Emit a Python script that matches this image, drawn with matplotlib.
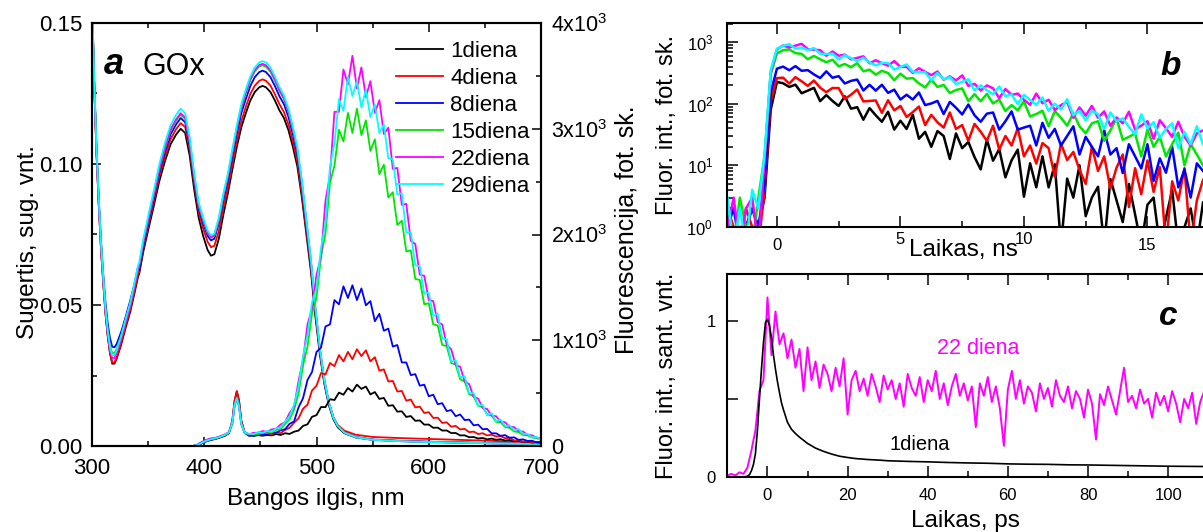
import numpy as np
import matplotlib
matplotlib.use("Agg")
import matplotlib.pyplot as plt
from matplotlib.ticker import MultipleLocator, LogLocator, NullFormatter

plt.rcParams['font.family'] = ['Liberation Sans', 'DejaVu Sans']
plt.rcParams['mathtext.fontset'] = 'custom'
plt.rcParams['mathtext.rm'] = 'Liberation Sans'
plt.rcParams['mathtext.it'] = 'Liberation Sans:italic'

#%% data
day_labels = ["1diena", "4diena", "8diena", "15diena", "22diena", "29diena"]
day_colors = ["#000000", "#ff0000", "#0000ff", "#00e600", "#ff00ff", "#00ffff"]

# panel a: absorption (left axis)
abs_wl = [300, 302, 304, 306, 308, 310, 312, 314, 316, 318,
          320, 322, 326, 330, 334, 338, 341, 342, 346, 350,
          355, 360, 365, 370, 375, 379, 383, 387, 391, 395,
          399, 403, 406, 409, 413, 417, 421, 425, 429, 433,
          437, 441, 445, 449, 452, 455, 459, 463, 467, 471,
          475, 479, 483, 487, 491, 495, 499, 503, 507, 511,
          515, 519, 525, 535, 550, 575, 600, 650, 700]
abs_d1 = [0.158, 0.128, 0.104, 0.086, 0.070, 0.058, 0.047, 0.039, 0.033, 0.0292,
          0.0292, 0.031, 0.036, 0.042, 0.0475, 0.0545, 0.060, 0.061, 0.0695, 0.0765,
          0.085, 0.094, 0.101, 0.107, 0.1105, 0.1125, 0.1110, 0.103, 0.091, 0.081,
          0.0745, 0.0695, 0.0675, 0.068, 0.0735, 0.082, 0.0895, 0.098, 0.106, 0.113,
          0.118, 0.1225, 0.1255, 0.1272, 0.1277, 0.1272, 0.1255, 0.1225, 0.119, 0.1163,
          0.112, 0.106, 0.099, 0.088, 0.075, 0.062, 0.046, 0.0325, 0.022, 0.0145,
          0.0095, 0.0066, 0.0045, 0.003, 0.0022, 0.0018, 0.0015, 0.0011, 0.0007]
abs_d4 = [0.158, 0.128, 0.104, 0.086, 0.070, 0.058, 0.0472, 0.0393, 0.0333, 0.0296,
          0.0296, 0.0314, 0.0365, 0.0426, 0.0482, 0.0553, 0.0608, 0.0618, 0.0705, 0.0777,
          0.0864, 0.0955, 0.1027, 0.1088, 0.1124, 0.1145, 0.1131, 0.1052, 0.0932, 0.0830,
          0.0772, 0.0724, 0.0705, 0.0710, 0.0762, 0.0843, 0.0915, 0.0998, 0.1079, 0.1151,
          0.1202, 0.1248, 0.1278, 0.1295, 0.1300, 0.1295, 0.1278, 0.1247, 0.1212, 0.1184,
          0.1140, 0.1079, 0.1008, 0.0896, 0.0764, 0.0632, 0.0470, 0.0333, 0.0228, 0.0153,
          0.0103, 0.0074, 0.0054, 0.0040, 0.0032, 0.0028, 0.0025, 0.0019, 0.0013]
abs_d8 = [0.158, 0.129, 0.106, 0.088, 0.073, 0.061, 0.051, 0.0435, 0.0383, 0.0352,
          0.0350, 0.0362, 0.0405, 0.0458, 0.0515, 0.0578, 0.0635, 0.0622, 0.0712, 0.0788,
          0.0876, 0.0970, 0.1043, 0.1105, 0.1141, 0.1163, 0.1148, 0.1067, 0.0945, 0.0843,
          0.0790, 0.0745, 0.0729, 0.0735, 0.0790, 0.0870, 0.0940, 0.1025, 0.1107, 0.1180,
          0.1230, 0.1276, 0.1308, 0.1326, 0.1331, 0.1326, 0.1308, 0.1276, 0.1240, 0.1212,
          0.1167, 0.1104, 0.1031, 0.0917, 0.0781, 0.0646, 0.0480, 0.0340, 0.0230, 0.0152,
          0.0100, 0.0070, 0.0048, 0.0032, 0.0023, 0.0018, 0.0015, 0.0010, 0.0006]
abs_d15 = [0.158, 0.128, 0.105, 0.087, 0.072, 0.060, 0.049, 0.041, 0.0355, 0.0330,
           0.0330, 0.0345, 0.0392, 0.0448, 0.0500, 0.0572, 0.0628, 0.0638, 0.0727, 0.0800,
           0.0888, 0.0982, 0.1055, 0.1117, 0.1153, 0.1175, 0.1160, 0.1078, 0.0955, 0.0853,
           0.0800, 0.0755, 0.0738, 0.0745, 0.0800, 0.0885, 0.0955, 0.1040, 0.1125, 0.1198,
           0.1250, 0.1296, 0.1328, 0.1346, 0.1350, 0.1345, 0.1327, 0.1295, 0.1258, 0.1230,
           0.1184, 0.1120, 0.1046, 0.0930, 0.0793, 0.0655, 0.0486, 0.0343, 0.0232, 0.0153,
           0.0100, 0.0070, 0.0047, 0.0031, 0.0022, 0.0017, 0.0014, 0.0010, 0.0006]
abs_d22 = [0.158, 0.128, 0.104, 0.086, 0.071, 0.059, 0.048, 0.040, 0.0340, 0.0312,
           0.0312, 0.0330, 0.0380, 0.0440, 0.0496, 0.0570, 0.0628, 0.0640, 0.0730, 0.0803,
           0.0892, 0.0986, 0.1060, 0.1123, 0.1159, 0.1180, 0.1165, 0.1083, 0.0958, 0.0856,
           0.0802, 0.0757, 0.0740, 0.0747, 0.0803, 0.0888, 0.0958, 0.1044, 0.1129, 0.1203,
           0.1255, 0.1301, 0.1333, 0.1351, 0.1355, 0.1350, 0.1332, 0.1300, 0.1263, 0.1234,
           0.1188, 0.1124, 0.1050, 0.0934, 0.0796, 0.0658, 0.0488, 0.0345, 0.0233, 0.0154,
           0.0101, 0.0070, 0.0047, 0.0031, 0.0022, 0.0017, 0.0014, 0.0010, 0.0006]
abs_d29 = [0.160, 0.130, 0.106, 0.088, 0.072, 0.060, 0.049, 0.041, 0.0350, 0.0322,
           0.0322, 0.0340, 0.0390, 0.0450, 0.0508, 0.0582, 0.0640, 0.0650, 0.0740, 0.0815,
           0.0905, 0.1000, 0.1075, 0.1138, 0.1175, 0.1196, 0.1180, 0.1097, 0.0970, 0.0865,
           0.0810, 0.0764, 0.0747, 0.0753, 0.0810, 0.0895, 0.0965, 0.1052, 0.1137, 0.1212,
           0.1264, 0.1310, 0.1342, 0.1360, 0.1365, 0.1360, 0.1342, 0.1310, 0.1273, 0.1243,
           0.1197, 0.1133, 0.1058, 0.0941, 0.0802, 0.0663, 0.0492, 0.0348, 0.0235, 0.0155,
           0.0102, 0.0071, 0.0047, 0.0031, 0.0022, 0.0017, 0.0014, 0.0010, 0.0006]

# panel a: fluorescence (right axis)
fl_wl = [390, 394, 398, 402, 406, 410, 414, 418, 422, 425, 427, 429, 431, 433, 436] + list(range(440, 701, 4))
fl_d1 = [0, 8, 28, 45, 58, 66, 80, 95, 120, 230, 420, 515, 430, 240, 125,
         99, 95, 103, 97, 105, 100, 113, 104, 121, 114,
         135, 146, 190, 205, 276, 292, 368, 368, 442, 435,
         505, 485, 548, 515, 580, 540, 562, 488, 510, 445,
         455, 380, 386, 325, 328, 275, 283, 238, 242, 202,
         203, 172, 174, 146, 147, 122, 123, 100, 101, 83,
         85, 71, 76, 63, 70, 59, 64, 52, 56, 45,
         48, 38, 42, 33, 37, 29]
fl_d4 = [0, 10, 30, 48, 60, 70, 82, 98, 125, 240, 430, 520, 420, 235, 128,
         110, 103, 115, 107, 120, 112, 128, 121, 152, 172,
         220, 262, 352, 392, 525, 570, 690, 675, 785, 755,
         860, 800, 890, 820, 915, 850, 905, 800, 840, 712,
         725, 610, 615, 515, 520, 428, 440, 365, 372, 312,
         320, 265, 268, 218, 224, 182, 190, 157, 162, 131,
         136, 113, 121, 100, 107, 90, 93, 74, 76, 53,
         52, 41, 46, 34, 38, 29]
fl_d8 = [0, 9, 27, 46, 60, 72, 85, 100, 126, 215, 380, 455, 380, 210, 125,
         96, 110, 104, 116, 111, 126, 125, 149, 158, 210,
         232, 366, 452, 625, 700, 890, 930, 1130, 1150, 1380,
         1340, 1510, 1400, 1520, 1380, 1490, 1330, 1370, 1180, 1250,
         1090, 1110, 940, 955, 790, 790, 670, 680, 570, 580,
         470, 485, 395, 405, 330, 340, 282, 298, 245, 250,
         195, 202, 158, 162, 120, 120, 96, 103, 78, 82,
         58, 63, 48, 50, 34, 36]
fl_d15 = [0, 12, 38, 55, 70, 72, 88, 102, 128, 215, 385, 450, 375, 205, 122,
          108, 116, 113, 127, 124, 128, 153, 160, 208, 252,
          342, 495, 760, 940, 1250, 1400, 1790, 2010, 2490, 2650,
          2990, 2880, 3150, 2960, 3190, 2940, 3080, 2790, 2900, 2570,
          2660, 2350, 2400, 2090, 2130, 1840, 1850, 1580, 1570, 1340,
          1350, 1150, 1140, 955, 945, 785, 770, 630, 610, 490,
          470, 380, 370, 300, 288, 228, 224, 180, 172, 138,
          131, 104, 101, 80, 75, 57]
fl_d22 = [0, 14, 40, 58, 72, 78, 92, 108, 132, 225, 390, 455, 380, 210, 130,
          111, 125, 125, 141, 134, 157, 163, 203, 226, 312,
          370, 615, 815, 1150, 1300, 1620, 1790, 2320, 2560, 3160,
          3160, 3560, 3420, 3690, 3380, 3580, 3300, 3450, 3150, 3270,
          2950, 3010, 2620, 2630, 2280, 2290, 1940, 1910, 1620, 1610,
          1380, 1370, 1170, 1150, 955, 915, 765, 750, 610, 585,
          465, 448, 360, 350, 285, 282, 228, 225, 182, 178,
          142, 136, 106, 101, 78, 74]
fl_d29 = [0, 10, 32, 50, 64, 74, 86, 104, 128, 220, 385, 455, 378, 212, 126,
          116, 112, 131, 124, 142, 136, 165, 176, 230, 280,
          390, 560, 850, 1050, 1360, 1490, 1870, 2110, 2640, 2860,
          3280, 3170, 3490, 3310, 3450, 3200, 3370, 3110, 3230, 2960,
          3040, 2720, 2710, 2380, 2390, 2020, 2020, 1710, 1700, 1440,
          1450, 1230, 1250, 1020, 1010, 800, 810, 650, 660, 500,
          500, 380, 390, 290, 310, 235, 250, 190, 195, 150,
          160, 115, 115, 82, 86, 58]

# panel b: decays, counts every 0.25 ns from -2 ns (0.5 = empty channel)
b_t = np.arange(-2.0, 17.26, 0.25)
b_d1 = [1, 0.5, 1, 1, 2, 1, 3, 80, 225, 215,
        187, 204, 148, 163, 181, 110, 138, 111, 92, 132,
        83, 88, 55, 85, 65, 51, 74, 38, 53, 39,
        66, 27, 35, 20, 36, 30, 12.7, 33, 19, 24,
        13.6, 8.6, 26, 11.9, 18.4, 6.4, 12.1, 18, 3.1, 10.8,
        4.4, 14, 4.4, 10.4, 0.5, 6.1, 3, 10, 1.5, 3,
        4.5, 0.5, 6, 2.7, 1.2, 5, 1.6, 0.5, 2.3, 3,
        0.5, 1.4, 4, 0.5, 1, 2, 0.5, 2.5]
b_d4 = [2, 1, 0.5, 2, 1, 0.5, 4, 110, 260, 265,
        212, 270, 231, 195, 238, 182, 154, 180, 179, 119,
        140, 170, 109, 111, 113, 71, 114, 78, 92, 61,
        73, 90, 45, 66, 50, 41, 72, 39, 45, 25,
        47, 35, 25, 44, 18, 30, 21, 40, 14, 21,
        10.7, 23, 19, 6.5, 22.5, 12.2, 16.5, 8.5, 5, 20,
        8.1, 14, 4.2, 9.2, 15, 2.1, 9, 3.4, 12, 3.7,
        9.4, 0.5, 5.5, 2.7, 9, 0.5, 2.7, 5.8]
b_d8 = [1, 2, 0.5, 1, 2, 1, 5, 150, 370, 400,
        350, 407, 342, 351, 299, 261, 335, 264, 280, 213,
        235, 246, 164, 203, 163, 203, 150, 169, 117, 140,
        117, 152, 95, 101, 111, 68, 107, 86, 67, 97,
        65, 51, 69, 72, 38, 52, 75, 38, 41, 44,
        21, 49, 28, 39, 21, 30, 43, 15, 29, 20,
        14, 37, 15, 19, 7.5, 22, 14, 8.9, 22, 5.6,
        13, 7.6, 20, 4.4, 8.6, 3, 10.8, 8.1]
b_d15 = [2, 0.5, 3, 1, 0.5, 3, 14, 300, 650, 740,
         760, 662, 644, 527, 596, 526, 471, 518, 404, 441,
         391, 455, 336, 357, 296, 342, 315, 240, 307, 255,
         261, 214, 183, 246, 187, 202, 149, 167, 177, 110,
         143, 110, 144, 101, 117, 76, 95, 78, 109, 62,
         68, 77, 43, 76, 59, 44, 70, 43, 33, 48,
         52, 25, 37, 58, 26, 29, 33, 14, 38, 20,
         29, 14, 22, 34, 10, 22, 15, 10]
b_d22 = [1, 3, 0.5, 2, 3, 0.5, 12, 320, 760, 880,
         816, 875, 936, 768, 754, 739, 602, 704, 600, 626,
         525, 554, 587, 452, 507, 455, 414, 492, 395, 397,
         316, 376, 329, 290, 333, 245, 278, 238, 288, 195,
         210, 164, 198, 178, 123, 173, 139, 146, 116, 96,
         146, 102, 116, 79, 95, 107, 59, 87, 64, 92,
         59, 75, 44, 60, 48, 74, 38, 44, 52, 27,
         54, 40, 29, 51, 29, 21, 33, 37]
b_d29 = [3, 0.5, 2, 0.5, 4, 2, 15, 350, 780, 870,
         925, 780, 815, 740, 800, 643, 641, 648, 525, 611,
         549, 490, 556, 467, 419, 461, 459, 357, 394, 434,
         328, 325, 323, 242, 315, 249, 271, 208, 226, 249,
         164, 199, 166, 142, 190, 133, 141, 99, 139, 115,
         96, 126, 77, 100, 81, 118, 65, 77, 54, 77,
         68, 39, 72, 52, 58, 42, 32, 67, 40, 50,
         28, 39, 48, 19, 35, 22, 43, 22]

# panel c: normalised fast kinetics
c_t1 = [-10, -6, -5, -4.5, -4, -3.5, -3, -2.5, -2, -1.5,
        -1, -0.5, 0, 0.5, 1, 1.5, 2, 2.5, 3, 3.5,
        4, 5, 6, 7, 8, 9, 10, 12, 14, 16,
        18, 20, 22, 25, 28, 30, 35, 40, 45, 50,
        55, 60, 65, 70, 75, 80, 85, 90, 95, 100, 105, 110]
c_d1 = [0, 0, 0.005, 0.015, 0.04, 0.08, 0.15, 0.30, 0.50, 0.69,
        0.86, 0.99, 1.01, 0.97, 0.89, 0.78, 0.69, 0.61, 0.54, 0.475,
        0.43, 0.35, 0.305, 0.278, 0.255, 0.235, 0.215, 0.185, 0.164, 0.147,
        0.133, 0.125, 0.118, 0.112, 0.108, 0.104, 0.100, 0.097, 0.093, 0.090,
        0.088, 0.084, 0.082, 0.081, 0.078, 0.077, 0.075, 0.073, 0.071, 0.069, 0.068, 0.067]
c_t22 = np.arange(-10, 111)
c_d22 = [0.01, 0.02, 0.01, 0.03, 0.02, 0.06, 0.17, 0.30, 0.55, 0.62,
         1.15, 0.78, 1.06, 0.85, 0.92, 0.76, 0.88, 0.70, 0.82, 0.55,
         0.83, 0.62, 0.74, 0.57, 0.72, 0.66, 0.55, 0.70, 0.58, 0.76,
         0.40, 0.62, 0.68, 0.55, 0.63, 0.52, 0.66, 0.58, 0.48, 0.65,
         0.56, 0.62, 0.50, 0.60, 0.45, 0.66, 0.57, 0.52, 0.64, 0.48,
         0.62, 0.55, 0.68, 0.50, 0.60, 0.46, 0.58, 0.66, 0.52, 0.60,
         0.49, 0.58, 0.32, 0.60, 0.52, 0.64, 0.48, 0.58, 0.44, 0.20,
         0.56, 0.68, 0.50, 0.62, 0.47, 0.58, 0.54, 0.42, 0.60, 0.50,
         0.57, 0.45, 0.62, 0.52, 0.48, 0.58, 0.44, 0.55, 0.50, 0.38,
         0.56, 0.47, 0.24, 0.53, 0.46, 0.58, 0.49, 0.40, 0.55, 0.70,
         0.48, 0.52, 0.44, 0.56, 0.47, 0.50, 0.38, 0.54, 0.46, 0.52,
         0.42, 0.55, 0.47, 0.35, 0.50, 0.44, 0.54, 0.34, 0.48, 0.55, 0.46]

abs_all = [abs_d1, abs_d4, abs_d8, abs_d15, abs_d22, abs_d29]
fl_all = [fl_d1, fl_d4, fl_d8, fl_d15, fl_d22, fl_d29]
b_all = [b_d1, b_d4, b_d8, b_d15, b_d22, b_d29]

#%% figure
W, H = 1203, 532
fig = plt.figure(figsize=(W / 100, H / 100), dpi=100)

def px_axes(left, top, right, bottom):
    return fig.add_axes([left / W, 1 - bottom / H, (right - left) / W, (bottom - top) / H])

def frame(ax):
    for s in ax.spines.values():
        s.set_linewidth(1.5)

# ---- panel a
ax_a = px_axes(92, 23, 541, 446)
for y, c in zip(abs_all, day_colors):
    ax_a.plot(abs_wl, y, color=c, lw=1.3)
ax_a.set_xlim(300, 700)
ax_a.set_ylim(0, 0.15)
ax_a.set_xticks([300, 400, 500, 600, 700])
ax_a.xaxis.set_minor_locator(MultipleLocator(50))
ax_a.set_yticks([0, 0.05, 0.10, 0.15])
ax_a.set_yticklabels(["0.00", "0.05", "0.10", "0.15"])
ax_a.yaxis.set_minor_locator(MultipleLocator(0.025))
ax_a.tick_params(axis='x', which='both', direction='in', top=True, labelsize=16, pad=9)
ax_a.tick_params(axis='y', which='both', direction='in', right=False, labelsize=16, pad=7)
ax_a.tick_params(which='major', length=6.5, width=1.1)
ax_a.tick_params(which='minor', length=3.5, width=1.1)
frame(ax_a)

ax_f = ax_a.twinx()
for y, c, lab in zip(fl_all, day_colors, day_labels):
    ax_f.plot(fl_wl, y, color=c, lw=1.3, label=lab)
ax_f.set_ylim(0, 4000)
ax_f.set_yticks([0, 1000, 2000, 3000, 4000])
ax_f.set_yticklabels(["0", "1x10$^3$", "2x10$^3$", "3x10$^3$", "4x10$^3$"])
ax_f.yaxis.set_minor_locator(MultipleLocator(500))
ax_f.tick_params(axis='y', which='both', direction='in', labelsize=15.5, pad=7.5)
ax_f.tick_params(which='major', length=6.5, width=1.1)
ax_f.tick_params(which='minor', length=3.5, width=1.1)
frame(ax_f)
ax_f.legend(loc='upper left', bbox_to_anchor=(396 / W, 1 - 41 / H), bbox_transform=fig.transFigure,
            frameon=False, fontsize=16, handlelength=2.1, handletextpad=0.35,
            labelspacing=0.27, borderpad=0, borderaxespad=0)

fig.text(104 / W, 1 - 74 / H, "a", fontsize=26, fontweight='bold', fontstyle='italic')
fig.text(142 / W, 1 - 75 / H, "GOx", fontsize=22)
fig.text(28 / W, 1 - 242 / H, "Sugertis, sug. vnt.", rotation=90, ha='center', va='center', fontsize=17.5)
fig.text(627 / W, 1 - 230 / H, "Fluorescencija, fot. sk.", rotation=90, ha='center', va='center', fontsize=18)
fig.text(316 / W, 1 - 499 / H, "Bangos ilgis, nm", ha='center', va='center', fontsize=17.5)

# ---- panel b
ax_b = px_axes(727, 23, 1205, 227)
for y, c in zip(b_all, day_colors):
    ax_b.plot(b_t, y, color=c, lw=1.8)
ax_b.set_yscale('log')
ax_b.set_ylim(1, 2040)
ax_b.set_xlim(-2.02, 17.33)
ax_b.set_xticks([0, 5, 10, 15])
ax_b.set_xticklabels(["0", "", "", "15"])
ax_b.xaxis.set_minor_locator(MultipleLocator(2.5))
ax_b.yaxis.set_major_locator(LogLocator(base=10, numticks=10))
ax_b.yaxis.set_minor_locator(LogLocator(base=10, subs=np.arange(2, 10), numticks=10))
ax_b.yaxis.set_minor_formatter(NullFormatter())
ax_b.tick_params(which='both', direction='in', top=True, labelsize=12)
ax_b.tick_params(axis='x', pad=8)
ax_b.tick_params(axis='y', pad=10)
ax_b.tick_params(which='major', length=8, width=1.1)
ax_b.tick_params(which='minor', length=4, width=1.1)
frame(ax_b)
for xv, lab in [(5, "5"), (10, "10")]:
    ax_b.text(xv, -0.06, lab, transform=ax_b.get_xaxis_transform(), ha='center', va='center', fontsize=12)
fig.text(1160 / W, 1 - 75 / H, "b", fontsize=24, fontweight='bold', fontstyle='italic')
fig.text(667 / W, 1 - 125 / H, "Fluor. int., fot. sk.", rotation=90, ha='center', va='center', fontsize=17)
fig.text(963 / W, 1 - 250 / H, "Laikas, ns", ha='center', va='center', fontsize=17.5)

# ---- panel c
ax_c = px_axes(727, 274, 1205, 477)
ax_c.plot(c_t22, c_d22, color="#ff00ff", lw=1.4)
ax_c.plot(c_t1, c_d1, color="#000000", lw=1.2)
ax_c.set_xlim(-10.1, 109.2)
ax_c.set_ylim(0, 1.30)
ax_c.xaxis.set_major_locator(MultipleLocator(20))
ax_c.xaxis.set_minor_locator(MultipleLocator(10))
ax_c.set_yticks([0, 0.5, 1])
ax_c.set_yticklabels(["0", "", "1"])
ax_c.tick_params(which='both', direction='in', top=True, labelsize=12)
ax_c.tick_params(axis='x', pad=8)
ax_c.tick_params(axis='y', pad=8)
ax_c.tick_params(which='major', length=8, width=1.1)
ax_c.tick_params(which='minor', length=4, width=1.1)
frame(ax_c)
ax_c.text(42.4, 0.82, "22 diena", color="#ff00ff", fontsize=15.5, ha='left', va='center')
ax_c.text(30.4, 0.207, "1diena", color="#000000", fontsize=14.5, ha='left', va='center')
fig.text(1159 / W, 1 - 325 / H, "c", fontsize=24, fontweight='bold', fontstyle='italic')
fig.text(667 / W, 1 - 376 / H, "Fluor. int., sant. vnt.", rotation=90, ha='center', va='center', fontsize=17)
fig.text(965 / W, 1 - 521 / H, "Laikas, ps", ha='center', va='center', fontsize=17.5)

fig.savefig("out.png", dpi=100)
